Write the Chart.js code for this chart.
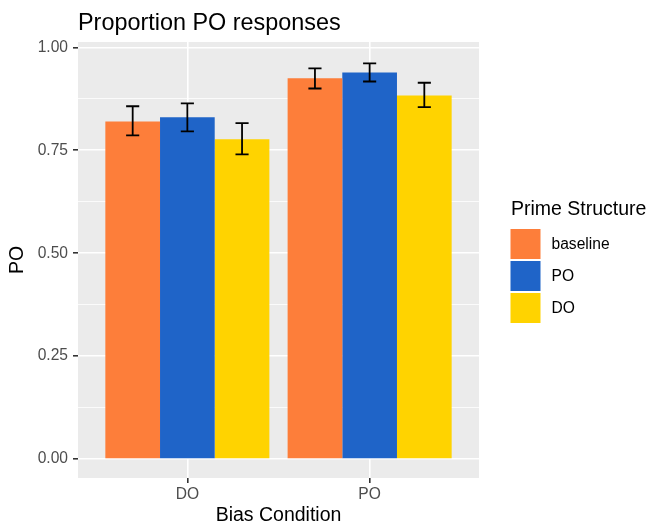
<!DOCTYPE html>
<html>
<head>
<meta charset="utf-8">
<script src="https://cdn.jsdelivr.net/npm/chart.js@4"></script>
<style>
  body { margin: 0; background: #fff; }
</style>
</head>
<body>
<canvas id="poChart" width="652" height="525"></canvas>
<script>
// data
const categories = ["DO", "PO"];
const primeLabels = ["baseline", "PO", "DO"];
const primeColors = ["#FD7E3A", "#1F64C8", "#FFD300"];

const baselineValues = [0.820, 0.925];
const poValues = [0.830, 0.939];
const doValues = [0.777, 0.883];

const baselineLow = [0.786, 0.900];
const baselineHigh = [0.857, 0.949];
const poLow = [0.796, 0.917];
const poHigh = [0.864, 0.961];
const doLow = [0.740, 0.855];
const doHigh = [0.816, 0.914];

const yMajorTicks = [0, 0.25, 0.5, 0.75, 1];
const yMinorTicks = [0.125, 0.375, 0.625, 0.875];

const FONT = "'Liberation Sans', Arial, sans-serif";

function toPoints(values) {
    return values.map((v, i) => ({ x: i + 1, y: v }));
}

const seriesValues = [baselineValues, poValues, doValues];
const seriesLow = [baselineLow, poLow, doLow];
const seriesHigh = [baselineHigh, poHigh, doHigh];

/**
 * ggplot-like grey panel, title and legend
 */
const panelPlugin = {
    id: "panel",
    beforeDraw(chart) {
        const { ctx, chartArea: a } = chart;
        ctx.save();
        ctx.fillStyle = "#EBEBEB";
        ctx.fillRect(a.left, a.top, a.right - a.left, a.bottom - a.top);
        ctx.restore();
    },
    afterDraw(chart) {
        const { ctx } = chart;
        ctx.save();
        ctx.fillStyle = "#000";
        ctx.textAlign = "left";
        ctx.textBaseline = "alphabetic";
        ctx.font = "23.4px " + FONT;
        ctx.fillText("Proportion PO responses", 78, 29.5);

        // legend
        ctx.font = "19.5px " + FONT;
        ctx.fillText("Prime Structure", 511, 215);
        ctx.font = "15.6px " + FONT;
        ctx.textBaseline = "middle";
        chart.data.datasets.forEach((ds, i) => {
            const top = 229 + i * 32;
            ctx.fillStyle = ds.backgroundColor;
            ctx.fillRect(510.5, top, 30, 30);
            ctx.fillStyle = "#000";
            ctx.fillText(ds.label, 551.5, top + 15.5);
        });
        ctx.restore();
    }
};

const errorBarPlugin = {
    id: "errorBars",
    afterDatasetsDraw(chart) {
        const { ctx } = chart;
        const y = chart.scales.y;
        ctx.save();
        ctx.strokeStyle = "#000";
        ctx.lineWidth = 1.8;
        chart.data.datasets.forEach((ds, di) => {
            const meta = chart.getDatasetMeta(di);
            meta.data.forEach((bar, i) => {
                const lo = y.getPixelForValue(ds.errorLow[i]);
                const hi = y.getPixelForValue(ds.errorHigh[i]);
                const half = bar.width * 0.12;
                ctx.beginPath();
                ctx.moveTo(bar.x, lo);
                ctx.lineTo(bar.x, hi);
                ctx.moveTo(bar.x - half, lo);
                ctx.lineTo(bar.x + half, lo);
                ctx.moveTo(bar.x - half, hi);
                ctx.lineTo(bar.x + half, hi);
                ctx.stroke();
            });
        });
        ctx.restore();
    }
};

const ctx = document.getElementById("poChart");

new Chart(ctx, {
    type: "bar",
    data: {
        datasets: primeLabels.map((label, i) => ({
            label: label,
            data: toPoints(seriesValues[i]),
            errorLow: seriesLow[i],
            errorHigh: seriesHigh[i],
            backgroundColor: primeColors[i],
            borderWidth: 0,
            categoryPercentage: 0.9,
            barPercentage: 1
        }))
    },
    options: {
        responsive: false,
        animation: false,
        layout: {
            padding: { left: 0, top: 42, right: 173, bottom: 0 }
        },
        plugins: {
            legend: { display: false },
            title: { display: false },
            tooltip: { enabled: false }
        },
        scales: {
            x: {
                type: "linear",
                min: 0.4,
                max: 2.6,
                offset: false,
                afterBuildTicks: (axis) => {
                    axis.ticks = categories.map((c, i) => ({ value: i + 1 }));
                },
                afterFit: (scale) => {
                    scale.height = 47;
                },
                ticks: {
                    autoSkip: false,
                    maxRotation: 0,
                    padding: 2,
                    color: "#4D4D4D",
                    font: { family: FONT, size: 15.6 },
                    callback: (value) => categories[value - 1]
                },
                grid: {
                    offset: false,
                    color: "#FFFFFF",
                    lineWidth: 1.6,
                    tickColor: "#333333",
                    tickLength: 5,
                    tickWidth: 1.6
                },
                border: { display: false },
                title: {
                    display: true,
                    text: "Bias Condition",
                    color: "#000",
                    font: { family: FONT, size: 19.5 },
                    padding: { top: 0, bottom: -2 }
                }
            },
            y: {
                min: -0.046,
                max: 1.013,
                afterBuildTicks: (axis) => {
                    axis.ticks = yMajorTicks.concat(yMinorTicks)
                        .sort((a, b) => a - b)
                        .map((v) => ({ value: v }));
                },
                afterFit: (scale) => {
                    scale.width = 78;
                },
                ticks: {
                    padding: 5,
                    color: "#4D4D4D",
                    font: { family: FONT, size: 15.6 },
                    callback: (value) => yMajorTicks.includes(value) ? value.toFixed(2) : ""
                },
                grid: {
                    color: "#FFFFFF",
                    lineWidth: (c) => yMajorTicks.includes(c.tick.value) ? 1.6 : 0.8,
                    tickColor: (c) => yMajorTicks.includes(c.tick.value) ? "#333333" : "rgba(0,0,0,0)",
                    tickLength: 5,
                    tickWidth: 1.6
                },
                border: { display: false },
                title: {
                    display: true,
                    text: "PO",
                    color: "#000",
                    font: { family: FONT, size: 19.5 },
                    padding: { top: 6, bottom: 0 }
                }
            }
        }
    },
    plugins: [panelPlugin, errorBarPlugin]
});
</script>
</body>
</html>
